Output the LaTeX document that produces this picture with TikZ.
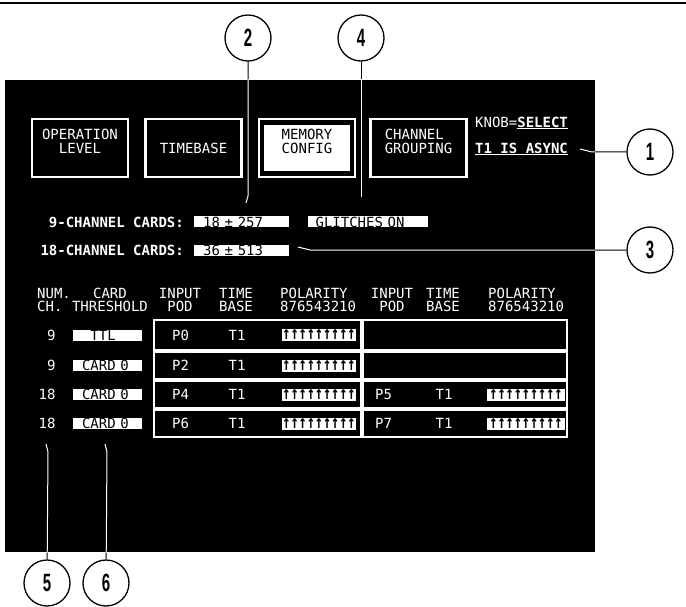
\documentclass[tikz,border=0pt]{standalone}
\usepackage{graphicx}
\usepackage{fontspec}
\setmonofont{DejaVu Sans Mono}
\newfontfamily\calloutfont{Liberation Sans}
\usetikzlibrary{positioning}

\newcommand{\callnum}[1]{\scalebox{0.6}[1]{#1}}
\newcommand{\polmarks}{\scalebox{1}[1.35]{\bfseries ↑↑↑↑↑↑↑↑↑}}

\tikzset{
	scr/.style={text=white, inner sep=0pt, font=\ttfamily\fontsize{14}{13.5}\selectfont},
	menubox/.style={draw=white, line width=2.5pt, minimum width=96pt, minimum height=58pt},
	inv/.style={fill=white, text=black, inner sep=0pt, align=left, font=\ttfamily\fontsize{14}{13.5}\selectfont, text height=10.5pt, text depth=0.5pt},
	cell/.style={draw=white, line width=2pt, minimum height=27pt},
	pol/.style={fill=white, text=black, inner sep=0pt, minimum height=12pt, font=\ttfamily\fontsize{13.5}{13.5}\selectfont},
	callout/.style={circle, draw, fill=white, line width=1.3pt, minimum size=46pt, inner sep=0pt, font=\calloutfont\bfseries\fontsize{25}{25}\selectfont},
	leader/.style={line width=1pt}
}

\begin{document}
\begin{tikzpicture}[x=1pt, y=-1pt, node distance=15pt]
		\useasboundingbox (0,0) rectangle (686,607);
		\draw[line width=1.5pt] (0,3) -- (686,3);
		
		% screen
		\node[fill=black, minimum width=590pt, minimum height=472pt, anchor=north west, inner sep=0pt, outer sep=0pt] (screen) at (5,80) {};
		
		% menu
		\node[menubox] (oplevel) at (80,148) {};
		\node[menubox] (timebase) [right = of oplevel] {};
		\node[menubox] (memcfg) [right = of timebase] {};
		\node[menubox] (chgroup) [right = 13pt of memcfg] {};
		\node[fill=white, minimum width=86pt, minimum height=46pt] (memfill) at (memcfg) {};
		
		\node[scr, align=center, yshift=6.5pt] at (oplevel) {OPERATION\\LEVEL};
		\node[scr] at (timebase) {TIMEBASE};
		\node[scr, align=center, text=black, yshift=6.5pt] at (memcfg) {MEMORY\\CONFIG};
		\node[scr, align=left, yshift=6.5pt] at (chgroup) {CHANNEL\\GROUPING};
		
		\node[scr, anchor=west] (knob) at (475,123) {KNOB=\underline{\textbf{SELECT}}};
		\node[scr, anchor=west] (async) at (475,149) {\underline{\textbf{T1 IS ASYNC}}};
		
		% cards
		\node[scr, anchor=east] (nine) at (184,222) {\bfseries 9-CHANNEL CARDS:};
		\node[inv, text width=77pt, inner xsep=9pt] (mem9) [right = 10pt of nine] {18 ± 257};
		\node[inv, text width=104pt, inner xsep=8pt] (glitch) [right = 18pt of mem9] {GLITCHES ON};
		\node[scr, anchor=east] (eighteen) at (184,250) {\bfseries 18-CHANNEL CARDS:};
		\node[inv, text width=77pt, inner xsep=9pt] (mem18) [right = 10pt of eighteen] {36 ± 513};
		
		% table head
		\node[scr, align=left, anchor=west] (hnum) at (37,300) {NUM.\\CH.};
		\node[scr, align=center] (hthr) at (110,300) {CARD\\THRESHOLD};
		\node[scr, align=center] (hpodl) at (180,300) {INPUT\\POD};
		\node[scr, align=center] (hbasel) at (236,300) {TIME\\BASE};
		\node[scr, align=left, anchor=west] (hpoll) at (280,300) {POLARITY\\876543210};
		\node[scr, align=center] (hpodr) at (392,300) {INPUT\\POD};
		\node[scr, align=center] (hbaser) at (443,300) {TIME\\BASE};
		\node[scr, align=left, anchor=west] (hpolr) at (488,300) {POLARITY\\876543210};
		
		% table cells
		\node[cell, minimum width=207pt, minimum height=30pt, anchor=north west] (l1) at (153,319) {};
		\node[cell, minimum width=207pt] (l2) [below = 0pt of l1] {};
		\node[cell, minimum width=207pt] (l3) [below = 0pt of l2] {};
		\node[cell, minimum width=207pt] (l4) [below = 0pt of l3] {};
		\node[cell, minimum width=204pt, minimum height=30pt] (r1) [right = 0pt of l1] {};
		\node[cell, minimum width=204pt] (r2) [right = 0pt of l2] {};
		\node[cell, minimum width=204pt] (r3) [right = 0pt of l3] {};
		\node[cell, minimum width=204pt] (r4) [right = 0pt of l4] {};
		
		% rows
		\node[inv, text width=51pt, inner xsep=9pt] (thr1) at (107.5,0 |- l1) {\hphantom{C}TTL};
		\node[inv, text width=51pt, inner xsep=9pt] (thr2) at (107.5,0 |- l2) {CARD 0};
		\node[inv, text width=51pt, inner xsep=9pt] (thr3) at (107.5,0 |- l3) {CARD 0};
		\node[inv, text width=51pt, inner xsep=9pt] (thr4) at (107.5,0 |- l4) {CARD 0};
		
		\node[scr, anchor=east] (num1) [left = 17pt of thr1] {9};
		\node[scr, anchor=east] (num2) [left = 17pt of thr2] {9};
		\node[scr, anchor=east] (num3) [left = 17pt of thr3] {18};
		\node[scr, anchor=east] (num4) [left = 17pt of thr4] {18};
		
		\node[scr, anchor=west] (pod1) at ([xshift=19pt]l1.west) {P0};
		\node[scr, anchor=west] (pod2) at ([xshift=19pt]l2.west) {P2};
		\node[scr, anchor=west] (pod3) at ([xshift=19pt]l3.west) {P4};
		\node[scr, anchor=west] (pod4) at ([xshift=19pt]l4.west) {P6};
		\node[scr, anchor=west] (pod5) at ([xshift=13pt]r3.west) {P5};
		\node[scr, anchor=west] (pod7) at ([xshift=13pt]r4.west) {P7};
		
		\node[scr] (tb1) at ([xshift=84pt]l1.west) {T1};
		\node[scr] (tb2) at ([xshift=84pt]l2.west) {T1};
		\node[scr] (tb3) at ([xshift=84pt]l3.west) {T1};
		\node[scr] (tb4) at ([xshift=84pt]l4.west) {T1};
		\node[scr] (tb5) at ([xshift=82pt]r3.west) {T1};
		\node[scr] (tb7) at ([xshift=82pt]r4.west) {T1};
		
		\node[pol, minimum width=74pt] (pol1) at ([xshift=166pt]l1.west) {\polmarks};
		\node[pol, minimum width=74pt] (pol2) at ([xshift=166pt]l2.west) {\polmarks};
		\node[pol, minimum width=74pt] (pol3) at ([xshift=166pt]l3.west) {\polmarks};
		\node[pol, minimum width=74pt] (pol4) at ([xshift=166pt]l4.west) {\polmarks};
		\node[pol, minimum width=78pt] (pol5) at ([xshift=164pt]r3.west) {\polmarks};
		\node[pol, minimum width=78pt] (pol7) at ([xshift=164pt]r4.west) {\polmarks};
		
		% callouts
		\node[callout] (c1) at (650,152) {\callnum{1}};
		\node[callout] (c2) at (248,38) {\callnum{2}};
		\node[callout] (c3) at (650,250) {\callnum{3}};
		\node[callout] (c4) at (361,38) {\callnum{4}};
		\node[callout] (c5) at (47,583) {\callnum{5}};
		\node[callout] (c6) at (106,583) {\callnum{6}};
		
		\coordinate (k1) at (592,152);
		\coordinate (e1) at (580,149);
		\coordinate (k2) at (248,196);
		\coordinate (e2) at (246,203);
		\coordinate (k3) at (310,250);
		\coordinate (e3) at (298,247);
		\coordinate (e4) at (361,197);
		\coordinate (k5) at (48,452);
		\coordinate (e5) at (46,444);
		\coordinate (k6) at (107,452);
		\coordinate (e6) at (105,444);
		
		\draw[leader] (c1) -- (k1) -- (e1);
		\draw[leader] (c2) -- (k2) -- (e2);
		\draw[leader] (c3) -- (k3) -- (e3);
		\draw[leader] (c4) -- (e4);
		\draw[leader] (c5) -- (k5) -- (e5);
		\draw[leader] (c6) -- (k6) -- (e6);
		
		% leaders inside the screen
		\begin{scope}
			\clip (screen.north west) rectangle (screen.south east);
			\draw[leader, white] (c1) -- (k1) -- (e1);
			\draw[leader, white] (c2) -- (k2) -- (e2);
			\draw[leader, white] (c3) -- (k3) -- (e3);
			\draw[leader, white] (c4) -- (e4);
			\draw[leader, white] (c5) -- (k5) -- (e5);
			\draw[leader, white] (c6) -- (k6) -- (e6);
		\end{scope}
	\end{tikzpicture}
\end{document}
